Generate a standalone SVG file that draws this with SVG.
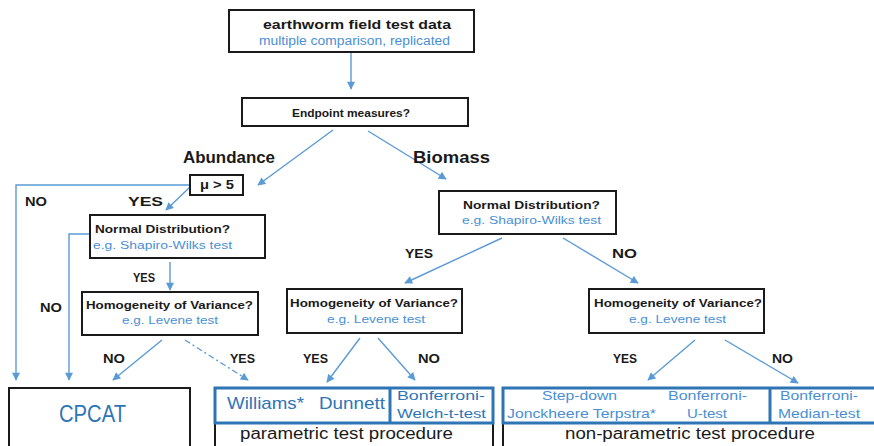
<svg xmlns="http://www.w3.org/2000/svg" width="874" height="446" viewBox="0 0 874 446">
<defs>
<marker id="ah" viewBox="0 0 10 10" refX="9" refY="5" markerWidth="9" markerHeight="8" markerUnits="userSpaceOnUse" orient="auto">
<path d="M0,0 L10,5 L0,10 z" fill="#5B9BD5"/>
</marker>
</defs>
<style>
text{font-family:"Liberation Sans",Arial,sans-serif}
.box{fill:#fff;stroke:#1a1a1a;stroke-width:2}
.bbox{fill:#fff;stroke:#2E75B6;stroke-width:3}
.b{font-weight:bold;fill:#1a1a1a}
.eg{fill:#4A8FD4}
.bl{fill:#2E75B6}
.lbl{font-weight:bold;fill:#1a1a1a;font-size:13px}
.c{fill:none;stroke:#5B9BD5;stroke-width:1.4;marker-end:url(#ah)}
</style>
<rect width="874" height="446" fill="#fff"/>

<g id="connectors">
<path class="c" d="M351 52 V89"/>
<path class="c" d="M333 130 L258 185"/>
<path class="c" d="M368 131 L446 179"/>
<path class="c" d="M190 185 H16 V380"/>
<path class="c" d="M190 187 L166 210"/>
<path class="c" d="M90 234 H69 V380"/>
<path class="c" d="M170 262 V290"/>
<path class="c" d="M162 340 L113 380"/>
<path class="c" d="M185 340 L248 380" stroke-dasharray="6 3 2 3"/>
<path class="c" d="M502 238 L405 283"/>
<path class="c" d="M563 238 L638 283"/>
<path class="c" d="M360 338 L327 382"/>
<path class="c" d="M378 338 L415 380"/>
<path class="c" d="M695 340 L648 380"/>
<path class="c" d="M725 340 L798 383"/>
</g>

<g id="labels">
<text class="b" x="183" y="163" font-size="17" textLength="92" lengthAdjust="spacingAndGlyphs">Abundance</text>
<text class="b" x="413" y="163" font-size="17" textLength="77" lengthAdjust="spacingAndGlyphs">Biomass</text>
<text class="lbl" x="25" y="206" textLength="22" lengthAdjust="spacingAndGlyphs">NO</text>
<text class="lbl" x="128" y="206" textLength="35" lengthAdjust="spacingAndGlyphs">YES</text>
<text class="lbl" x="133" y="282" textLength="22" lengthAdjust="spacingAndGlyphs">YES</text>
<text class="lbl" x="40" y="312" textLength="22" lengthAdjust="spacingAndGlyphs">NO</text>
<text class="lbl" x="103" y="363" textLength="22" lengthAdjust="spacingAndGlyphs">NO</text>
<text class="lbl" x="230" y="363" textLength="25" lengthAdjust="spacingAndGlyphs">YES</text>
<text class="lbl" x="405" y="258" font-size="15" textLength="28" lengthAdjust="spacingAndGlyphs">YES</text>
<text class="lbl" x="612" y="258" font-size="15" textLength="25" lengthAdjust="spacingAndGlyphs">NO</text>
<text class="lbl" x="303" y="363" textLength="25" lengthAdjust="spacingAndGlyphs">YES</text>
<text class="lbl" x="418" y="363" textLength="22" lengthAdjust="spacingAndGlyphs">NO</text>
<text class="lbl" x="613" y="363" textLength="24" lengthAdjust="spacingAndGlyphs">YES</text>
<text class="lbl" x="772" y="363" textLength="21" lengthAdjust="spacingAndGlyphs">NO</text>
</g>

<g id="n-data">
<rect class="box" x="229" y="10" width="245" height="42"/>
<text class="b" x="263" y="29" font-size="13" textLength="188" lengthAdjust="spacingAndGlyphs">earthworm field test data</text>
<text class="eg" x="259" y="45" font-size="12" textLength="191" lengthAdjust="spacingAndGlyphs">multiple comparison, replicated</text>
</g>

<g id="n-endpoint">
<rect class="box" x="242" y="98" width="226" height="28"/>
<text class="b" x="292" y="117" font-size="11" textLength="118" lengthAdjust="spacingAndGlyphs">Endpoint measures?</text>
</g>

<g id="n-mu">
<rect class="box" x="190" y="175" width="53" height="20"/>
<text x="200" y="189" font-size="12" fill="#1a1a1a" font-weight="bold" textLength="34" lengthAdjust="spacingAndGlyphs">μ &gt; 5</text>
</g>

<g id="n-normal-a">
<rect class="box" x="90" y="215" width="175" height="43"/>
<text class="b" x="95" y="233" font-size="11" textLength="135" lengthAdjust="spacingAndGlyphs">Normal Distribution?</text>
<text class="eg" x="93" y="249" font-size="11" textLength="139" lengthAdjust="spacingAndGlyphs">e.g. Shapiro-Wilks test</text>
</g>

<g id="n-homo-a">
<rect class="box" x="82" y="292" width="176" height="43"/>
<text class="b" x="86" y="309" font-size="11" textLength="167" lengthAdjust="spacingAndGlyphs">Homogeneity of Variance?</text>
<text class="eg" x="122" y="324" font-size="11" textLength="96" lengthAdjust="spacingAndGlyphs">e.g. Levene test</text>
</g>

<g id="n-normal-b">
<rect class="box" x="439" y="191" width="177" height="43"/>
<text class="b" x="463" y="209" font-size="11" textLength="137" lengthAdjust="spacingAndGlyphs">Normal Distribution?</text>
<text class="eg" x="462" y="224" font-size="11" textLength="139" lengthAdjust="spacingAndGlyphs">e.g. Shapiro-Wilks test</text>
</g>

<g id="n-homo-b">
<rect class="box" x="287" y="289" width="175" height="44"/>
<text class="b" x="290" y="307" font-size="11" textLength="168" lengthAdjust="spacingAndGlyphs">Homogeneity of Variance?</text>
<text class="eg" x="327" y="323" font-size="11" textLength="98" lengthAdjust="spacingAndGlyphs">e.g. Levene test</text>
</g>

<g id="n-homo-c">
<rect class="box" x="589" y="289" width="175" height="44"/>
<text class="b" x="594" y="307" font-size="11" textLength="168" lengthAdjust="spacingAndGlyphs">Homogeneity of Variance?</text>
<text class="eg" x="629" y="323" font-size="11" textLength="97" lengthAdjust="spacingAndGlyphs">e.g. Levene test</text>
</g>

<g id="n-cpcat">
<rect class="box" x="9" y="388" width="181" height="64"/>
<text class="bl" x="59" y="422" font-size="24" textLength="67" lengthAdjust="spacingAndGlyphs">CPCAT</text>
</g>

<g id="n-parametric">
<rect class="box" x="215" y="423" width="278" height="30"/>
<rect class="bbox" x="215" y="388" width="278" height="35"/>
<line x1="390" y1="388" x2="390" y2="423" stroke="#2E75B6" stroke-width="3"/>
<text class="bl" x="227" y="409" font-size="17" textLength="77" lengthAdjust="spacingAndGlyphs">Williams*</text>
<text class="bl" x="319" y="409" font-size="17" textLength="66" lengthAdjust="spacingAndGlyphs">Dunnett</text>
<text class="bl" x="397" y="400" font-size="13" textLength="88" lengthAdjust="spacingAndGlyphs">Bonferroni-</text>
<text class="bl" x="397" y="418" font-size="13" textLength="89" lengthAdjust="spacingAndGlyphs">Welch-t-test</text>
<text x="240" y="439" font-size="16" fill="#1a1a1a" textLength="213" lengthAdjust="spacingAndGlyphs">parametric test procedure</text>
</g>

<g id="n-nonparametric">
<rect class="box" x="503" y="423" width="375" height="30"/>
<rect class="bbox" x="503" y="388" width="375" height="35"/>
<line x1="770" y1="388" x2="770" y2="423" stroke="#2E75B6" stroke-width="3"/>
<text class="eg" x="542" y="400" font-size="13" textLength="75" lengthAdjust="spacingAndGlyphs">Step-down</text>
<text class="eg" x="507" y="418" font-size="13" textLength="149" lengthAdjust="spacingAndGlyphs">Jonckheere Terpstra*</text>
<text class="eg" x="668" y="400" font-size="13" textLength="79" lengthAdjust="spacingAndGlyphs">Bonferroni-</text>
<text class="eg" x="687" y="418" font-size="13" textLength="40" lengthAdjust="spacingAndGlyphs">U-test</text>
<text class="eg" x="780" y="400" font-size="13" textLength="78" lengthAdjust="spacingAndGlyphs">Bonferroni-</text>
<text class="eg" x="778" y="418" font-size="13" textLength="82" lengthAdjust="spacingAndGlyphs">Median-test</text>
<text x="565" y="439" font-size="16" fill="#1a1a1a" textLength="250" lengthAdjust="spacingAndGlyphs">non-parametric test procedure</text>
</g>
</svg>
